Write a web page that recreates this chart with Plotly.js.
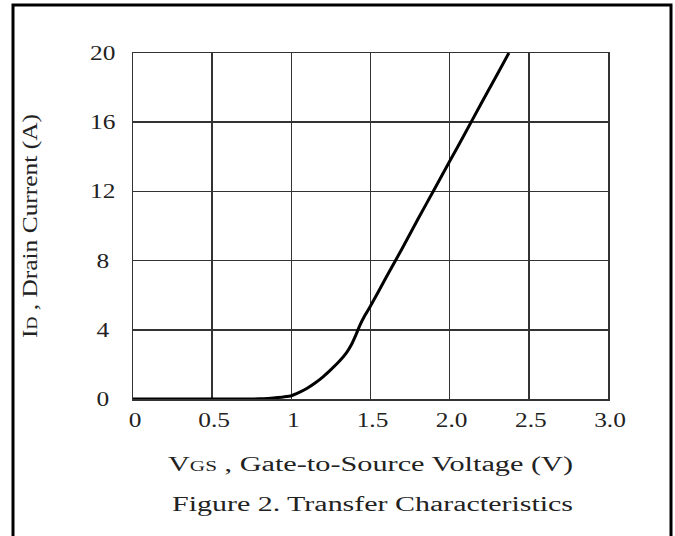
<!DOCTYPE html>
<html>
<head>
<meta charset="utf-8">
<script src="https://cdn.plot.ly/plotly-3.0.1.min.js"></script>
<style>
html,body{margin:0;padding:0;background:#fff;}
#chart{width:675px;height:536px;}
</style>
</head>
<body>
<div id="chart"></div>
<script>
// Transfer characteristics: gate-to-source voltage (V) vs drain current (A)
const vgs = [0, 0.2, 0.4, 0.6, 0.7, 0.8, 0.85, 0.9, 0.95, 1.0, 1.05, 1.1, 1.15, 1.2, 1.25, 1.3, 1.35, 1.38, 1.41, 1.43, 1.46, 1.5, 1.6, 1.7, 1.8, 1.9, 2.0, 2.1, 2.2, 2.3, 2.374];
const id  = [0, 0, 0, 0, 0, 0.01, 0.03, 0.07, 0.12, 0.19, 0.38, 0.62, 0.92, 1.28, 1.7, 2.15, 2.7, 3.15, 3.75, 4.2, 4.75, 5.37, 7.05, 8.7, 10.4, 12.07, 13.74, 15.4, 17.1, 18.76, 20];
const xTickVals = [0, 0.5, 1, 1.5, 2, 2.5, 3];
const xTickText = ["0", "0.5", "1", "1.5", "2.0", "2.5", "3.0"];
const yTickVals = [0, 4, 8, 12, 16, 20];
const yTickText = ["0", "4", "8", "12", "16", "20"];

const serif = "Liberation Serif, Times New Roman, serif";
const L = 133, R = 608, T = 53, B = 399.5, W = 675, H = 536;
const px = v => (v - L) / (R - L);
const py = v => (B - v) / (B - T);

const trace = {
  x: vgs, y: id, type: "scatter", mode: "lines",
  line: {color: "#000", width: 3, shape: "spline", smoothing: 0.6},
  hoverinfo: "skip", showlegend: false
};

const layout = {
  width: W, height: H,
  margin: {l: L, r: W - R, t: T, b: H - B},
  paper_bgcolor: "#fff", plot_bgcolor: "#fff",
  font: {family: serif, color: "#222", size: 20},
  title: {
    text: "Figure 2. Transfer Characteristics",
    font: {family: serif, size: 20, color: "#222"},
    x: 372.5 / W, xanchor: "center",
    yref: "container", y: 1 - 504 / H, yanchor: "middle"
  },
  xaxis: {
    range: [0, 3], tickvals: xTickVals, ticktext: xTickText,
    showgrid: true, gridcolor: "#333", gridwidth: 1.5,
    zeroline: false, showline: true, linecolor: "#333", linewidth: 1.5, mirror: true,
    ticks: "", ticklabelstandoff: 2,
    tickfont: {family: serif, size: 20, color: "#222"},
    title: {text: 'V<span style="font-size:14px">GS</span> , Gate-to-Source Voltage (V)',
            font: {family: serif, size: 20, color: "#222"}, standoff: 27},
    fixedrange: true
  },
  yaxis: {
    range: [0, 20], tickvals: yTickVals, ticktext: yTickText,
    showgrid: true, gridcolor: "#333", gridwidth: 1.5,
    zeroline: false, showline: true, linecolor: "#333", linewidth: 1.5, mirror: true,
    ticks: "", ticklabelstandoff: 12,
    tickfont: {family: serif, size: 20, color: "#222"},
    title: {text: 'I<span style="font-size:14px">D</span> , Drain Current (A)',
            font: {family: serif, size: 20, color: "#222"}, standoff: 52},
    fixedrange: true
  },
  shapes: [{
    type: "rect", xref: "paper", yref: "paper", layer: "above",
    x0: px(13), x1: px(671), y0: py(560), y1: py(5),
    line: {color: "#000", width: 3}, fillcolor: "rgba(0,0,0,0)"
  }]
};

// the reference typesetting is horizontally wide; stretch glyphs to the measured text widths
function widen(el, len) {
  el.setAttribute("lengthAdjust", "spacingAndGlyphs");
  el.setAttribute("textLength", len);
}

Plotly.newPlot("chart", [trace], layout, {displayModeBar: false, staticPlot: true}).then(gd => {
  const xt = gd.querySelector("text.xtitle"); if (xt) widen(xt, 405);
  const yt = gd.querySelector("text.ytitle"); if (yt) widen(yt, 224);
  const gt = gd.querySelector("text.gtitle"); if (gt) widen(gt, 401);
  gd.querySelectorAll(".xtick text").forEach(el => {
    widen(el, el.getComputedTextLength() * 1.27);
    const x0 = parseFloat(el.getAttribute("x")) || 0;
    el.setAttribute("x", x0 + 2);
  });
  const yl = Array.from(gd.querySelectorAll(".ytick text"));
  const widths = yl.map(el => el.getComputedTextLength() * 1.27);
  const maxW = Math.max(...widths);
  yl.forEach((el, i) => {
    widen(el, widths[i]);
    const x0 = parseFloat(el.getAttribute("x")) || 0;
    el.setAttribute("x", x0 - (maxW - widths[i]) / 2);
  });
});
</script>
</body>
</html>
